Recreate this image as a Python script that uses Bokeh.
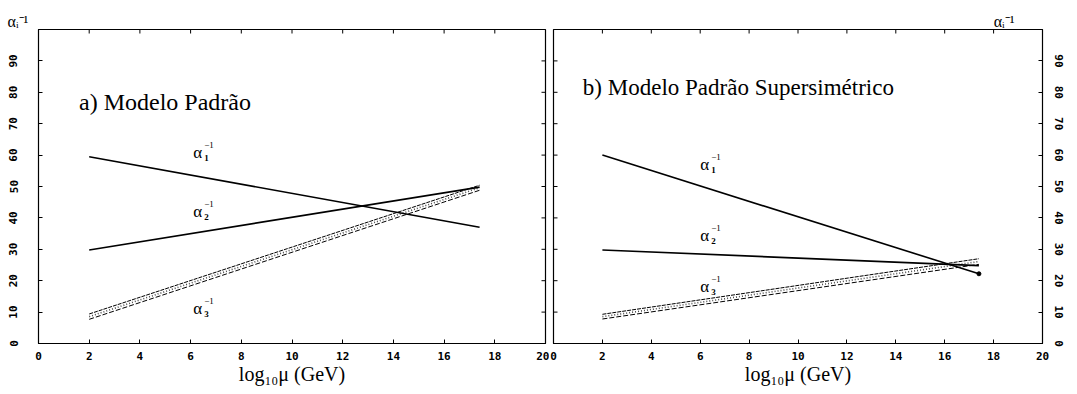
import math
from bokeh.plotting import figure
from bokeh.layouts import row
from bokeh.models import FixedTicker, Range1d
from bokeh.core.properties import value
from bokeh.embed import file_html
from bokeh.resources import INLINE

# ---- data ----
mu_ends = [2.0, 17.4]                 # log10(mu) at line start / end

# a) Modelo Padrão
a1_std = [59.5, 37.0]
a2_std = [29.8, 49.8]
a3_std_hi = [9.4, 50.4]
a3_std_lo = [7.7, 48.8]

# b) Modelo Padrão Supersimétrico
a1_susy = [60.0, 22.2]
a2_susy = [29.8, 24.8]
a3_susy_hi = [9.3, 27.0]
a3_susy_lo = [7.8, 25.2]

x_ticks = [0, 2, 4, 6, 8, 10, 12, 14, 16, 18, 20]
y_ticks = [0, 10, 20, 30, 40, 50, 60, 70, 80, 90]

subs = ["1", "2", "3"]
lab_x_std = [6.1, 6.1, 6.1]
lab_y_std = [60.8, 42.0, 11.0]
lab_x_susy = [6.0, 6.0, 6.0]
lab_y_susy = [57.0, 34.3, 18.0]

title_std = "a) Modelo Padrão"
title_susy = "b) Modelo Padrão Supersimétrico"
x_title = "log₁₀μ (GeV)"
y_name = "αᵢ⁻¹"

SERIF = "Liberation Serif"
TICKFONT = "DejaVu Sans Mono"


def style_axis(ax):
    ax.major_tick_in = 4
    ax.major_tick_out = 0
    ax.minor_tick_line_color = None
    ax.axis_line_color = "black"
    ax.major_tick_line_color = "black"
    ax.major_label_text_font = TICKFONT
    ax.major_label_text_font_style = "bold"
    ax.major_label_text_color = "black"
    ax.major_label_text_font_size = "11px"


def make_panel(width, left, right, bottom, yloc, a1, a2, a3hi, a3lo, title,
               title_xy, lab_x, lab_y, tsize, name_align, name_offset,
               end_dot=False):
    p = figure(width=width, height=394, output_backend="svg",
               toolbar_location=None, x_range=Range1d(0, 20),
               y_range=Range1d(0, 100), y_axis_location=yloc,
               min_border_left=left, min_border_right=right,
               min_border_top=29, min_border_bottom=bottom,
               background_fill_color="white", border_fill_color="white")
    p.xgrid.visible = False
    p.ygrid.visible = False
    p.outline_line_color = "black"
    p.outline_line_width = 1.2

    # axis name in the upper corner
    p.title.text = y_name
    p.title.text_font = SERIF
    p.title.text_font_size = "16px"
    p.title.text_font_style = "normal"
    p.title.text_color = "black"
    p.title.align = name_align
    p.title.offset = name_offset
    p.title.standoff = 0

    p.xaxis.ticker = FixedTicker(ticks=x_ticks)
    p.yaxis.ticker = FixedTicker(ticks=y_ticks)
    for ax in p.xaxis:
        style_axis(ax)
        ax.major_label_standoff = 8
        ax.axis_label = x_title
        ax.axis_label_text_font = SERIF
        ax.axis_label_text_font_style = "normal"
        ax.axis_label_text_font_size = "20px"
        ax.axis_label_text_color = "black"
        ax.axis_label_standoff = 0
    for ax in p.yaxis:
        style_axis(ax)
        ax.major_label_orientation = "vertical"
        ax.major_label_standoff = 21 if yloc == "left" else 12

    # inward tick marks on the opposite frame sides (clipped dashes)
    x_side = 20 if yloc == "left" else 0
    p.scatter([x_side] * len(y_ticks), y_ticks, marker="dash", size=8,
              line_color="black", line_width=1)
    p.scatter(x_ticks, [100] * len(x_ticks), marker="dash", size=8,
              angle=math.pi / 2, line_color="black", line_width=1)

    # curves
    p.line(mu_ends, a1, line_color="black", line_width=1.6)
    p.line(mu_ends, a2, line_color="black", line_width=1.6)
    p.line(mu_ends, a3hi, line_color="black", line_width=1.0, line_dash="4 1")
    p.line(mu_ends, a3lo, line_color="black", line_width=1.0, line_dash="5 2")
    mid = [(h + l) / 2 for h, l in zip(a3hi, a3lo)]
    p.line(mu_ends, mid, line_color="black", line_width=1.6, line_dash="1 2",
           line_alpha=0.7)
    if end_dot:
        p.scatter([mu_ends[1]], [a1[1]], size=4, color="black")

    # title
    p.text(x=[title_xy[0]], y=[title_xy[1]], text=[title],
           text_font=value(SERIF), text_font_size=tsize,
           text_baseline="middle", text_align="left", text_color="black")

    # curve labels alpha_i^-1
    p.text(x=lab_x, y=lab_y, text=["α"] * 3, text_font=value(SERIF),
           text_font_size="17px", text_baseline="middle", text_align="left",
           text_color="black")
    p.text(x=lab_x, y=lab_y, text=subs, text_font=value(SERIF),
           text_font_size="9px", text_font_style="bold",
           text_baseline="middle", text_align="left",
           x_offset=11, y_offset=5, text_color="black")
    p.text(x=lab_x, y=lab_y, text=["−1"] * 3, text_font=value(SERIF),
           text_font_size="9px", text_baseline="middle", text_align="left",
           x_offset=11, y_offset=-8, text_color="black")
    return p


p1 = make_panel(549, 38, 4, 47, "left", a1_std, a2_std, a3_std_hi, a3_std_lo,
                title_std, (1.6, 77.0), lab_x_std, lab_y_std, "24px",
                "left", -31)
p2 = make_panel(528, 4, 35, 51, "right", a1_susy, a2_susy, a3_susy_hi,
                a3_susy_lo, title_susy, (1.2, 81.5), lab_x_susy, lab_y_susy,
                "23px", "right", 28, end_dot=True)

layout = row(p1, p2, spacing=0)
open("out.html", "w").write(file_html(layout, INLINE))
